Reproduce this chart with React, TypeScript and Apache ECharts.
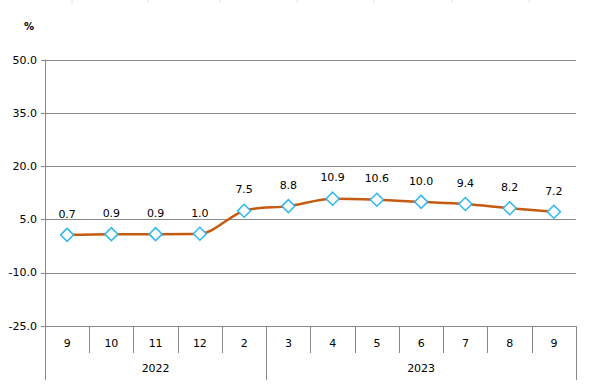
import React, { useEffect, useRef } from "react";
import * as echarts from "echarts";

const months = ["9", "10", "11", "12", "2", "3", "4", "5", "6", "7", "8", "9"];
const values = [0.7, 0.9, 0.9, 1.0, 7.5, 8.8, 10.9, 10.6, 10.0, 9.4, 8.2, 7.2];
const years = ["2022", "2023"];
const yearCenters = [2.5, 8.5];
const yearBounds = [0, 5, 12];
const yTicks = { min: -25, max: 50, interval: 15 };

export default function App() {
  const ref = useRef<HTMLDivElement>(null);
  useEffect(() => {
    if (!ref.current) return;
    const chart = echarts.init(ref.current, null, { renderer: "svg" });
    const font = "DejaVu Sans";
    const gridColor = "#898989";
    chart.setOption({
      animation: false,
      backgroundColor: "#ffffff",
      textStyle: { fontFamily: font },
      grid: { left: 45, right: 13, top: 60, bottom: 66, containLabel: false },
      graphic: [
        {
          type: "text",
          left: 24,
          top: 21,
          style: { text: "%", fontSize: 10, fontWeight: "bold", fill: "#000", fontFamily: font },
        },
        ...[72, 148, 220, 297, 374, 452, 529].map((x) => ({
          type: "line",
          shape: { x1: x, y1: 0, x2: x, y2: 3 },
          style: { stroke: "#e2e2e2", lineWidth: 1 },
        })),
      ],
      xAxis: [
        {
          type: "category",
          data: months,
          boundaryGap: true,
          axisLine: { show: true, onZero: false, lineStyle: { color: gridColor, width: 1 } },
          axisTick: { show: true, interval: 0, length: 27, lineStyle: { color: gridColor } },
          axisLabel: { interval: 0, margin: 12, fontSize: 11, color: "#000", fontFamily: font },
        },
        {
          type: "value",
          position: "bottom",
          offset: 27,
          min: 0,
          max: 12,
          splitLine: { show: false },
          axisLine: { show: false, onZero: false },
          axisTick: {
            show: true,
            length: 27,
            customValues: yearBounds,
            lineStyle: { color: gridColor },
          },
          axisLabel: {
            customValues: yearCenters,
            margin: 10,
            fontSize: 11,
            color: "#000",
            fontFamily: font,
            formatter: (v: number) => years[yearCenters.indexOf(v)] ?? "",
          },
        },
      ],
      yAxis: {
        type: "value",
        min: yTicks.min,
        max: yTicks.max,
        interval: yTicks.interval,
        axisLine: { show: true, lineStyle: { color: gridColor } },
        axisTick: { show: true, length: 4, lineStyle: { color: gridColor } },
        splitLine: { show: true, lineStyle: { color: gridColor, width: 1 } },
        axisLabel: {
          margin: 8,
          fontSize: 11,
          color: "#000",
          fontFamily: font,
          formatter: (v: number) => v.toFixed(1),
        },
      },
      series: [
        {
          type: "line",
          data: values,
          smooth: 0.3,
          symbol: "diamond",
          symbolSize: 13,
          showAllSymbol: true,
          lineStyle: { color: "#c55a11", width: 2.5 },
          itemStyle: { color: "#ffffff", borderColor: "#2db7ee", borderWidth: 1.5 },
          label: {
            show: true,
            position: "top",
            distance: 8,
            fontSize: 11,
            color: "#000",
            fontFamily: font,
            formatter: (p: any) => Number(p.value).toFixed(1),
          },
        },
      ],
    });
    return () => chart.dispose();
  }, []);
  return <div ref={ref} style={{ width: 589, height: 392, position: "absolute", left: 0, top: 0 }} />;
}
